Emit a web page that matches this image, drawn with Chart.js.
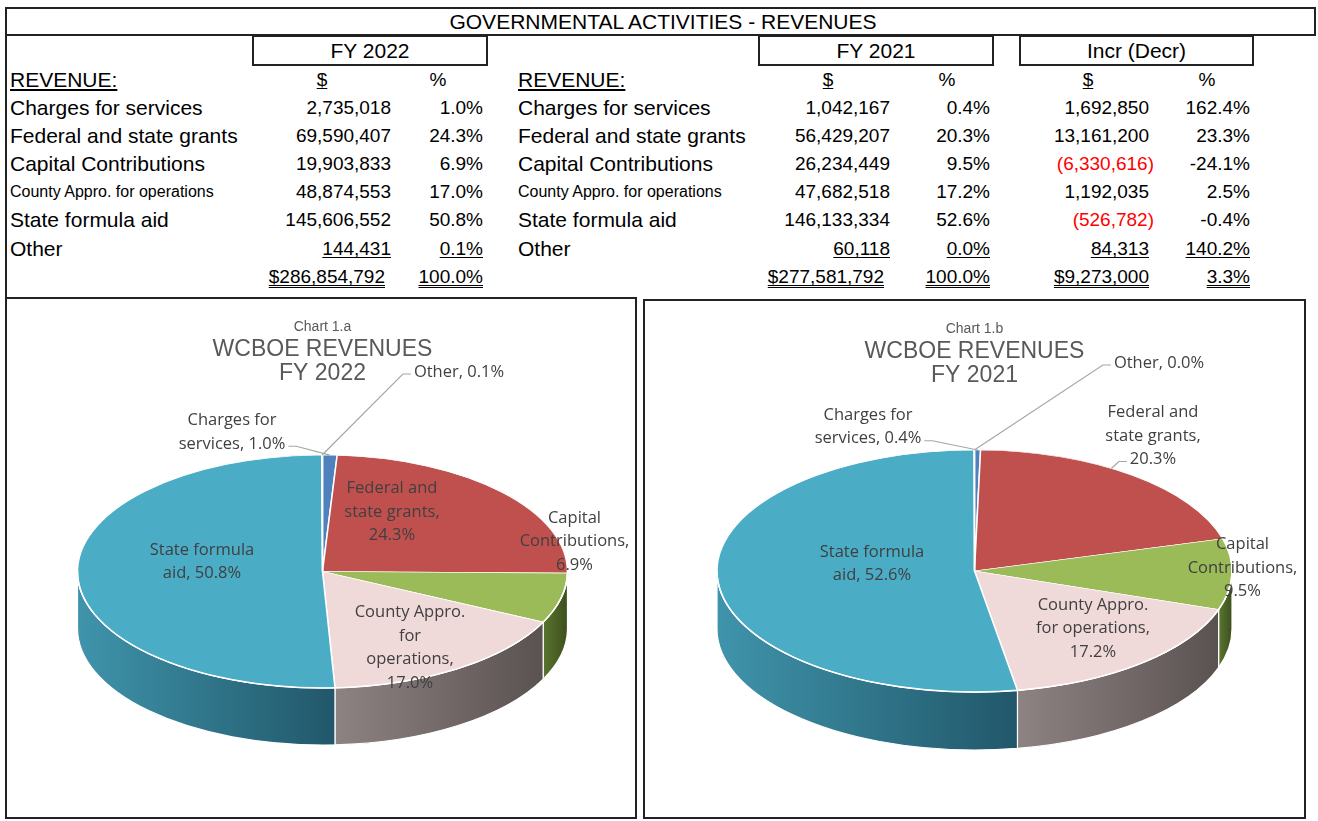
<!DOCTYPE html>
<html>
<head>
<meta charset="utf-8">
<script src="https://cdn.jsdelivr.net/npm/chart.js@4.4.1/dist/chart.umd.min.js"></script>
<style>
  body { margin: 0; background: #fff; width: 1318px; height: 821px; position: relative; overflow: hidden;
         font-family: "Liberation Sans", Arial, sans-serif; color: #000; }
  .ln { position: absolute; background: #222; }
  .t { position: absolute; font-size: 21px; line-height: 28px; height: 28px; white-space: nowrap; }
  .num { font-size: 19px; }
  .small { font-size: 16px; }
  .u { text-decoration: underline; text-underline-offset: 2px; }
  .uu { text-decoration: underline double; text-underline-offset: 2px; text-decoration-thickness: 1px; }
  .neg { color: #f00; }
  .fybox { position: absolute; box-sizing: border-box; border: 2px solid #222; font-size: 21px;
           text-align: center; line-height: 27px; }
  .box { position: absolute; box-sizing: border-box; border: 2px solid #222; }
  canvas { position: absolute; }
</style>
</head>
<body>
<div id="sheet"></div>
<div class="box" style="left:5px;top:297px;width:632px;height:522px"></div>
<div class="box" style="left:643px;top:299px;width:663px;height:520px"></div>
<canvas id="pie22" width="627" height="516" style="left:7px;top:300px"></canvas>
<canvas id="pie21" width="659" height="515" style="left:645px;top:302px"></canvas>
<script>
// ---- data ----
const categories = ["Charges for services", "Federal and state grants", "Capital Contributions",
                    "County Appro. for operations", "State formula aid", "Other"];
const fy2022 = [2735018, 69590407, 19903833, 48874553, 145606552, 144431];
const fy2022Pct = [1.0, 24.3, 6.9, 17.0, 50.8, 0.1];
const fy2022Total = 286854792;
const fy2021 = [1042167, 56429207, 26234449, 47682518, 146133334, 60118];
const fy2021Pct = [0.4, 20.3, 9.5, 17.2, 52.6, 0.0];
const fy2021Total = 277581792;
const incr = [1692850, 13161200, -6330616, 1192035, -526782, 84313];
const incrPct = [162.4, 23.3, -24.1, 2.5, -0.4, 140.2];
const incrTotal = 9273000;
const incrTotalPct = 3.3;

// ---- styles ----
const sliceColors = ["#4F81BD", "#C0504D", "#9BBB59", "#F0DAD9", "#4BACC6", "#F79646"];
const sideColors = [["#41699c", "#2c4a70"], ["#a34441", "#7a302e"], ["#5a7530", "#3c4f1d"],
                    ["#8d8382", "#5a5251"], ["#3f94ab", "#22576a"], ["#c77a3a", "#9a5c2a"]];
const labelFont = '16.5px "Open Sans", "Noto Sans", sans-serif';
const LH = 23.5;

// ---- table ----
const sheet = document.getElementById("sheet");
function el(cls, css, text) {
  const d = document.createElement("div");
  d.className = cls;
  d.style.cssText = css;
  if (text !== undefined) d.textContent = text;
  sheet.appendChild(d);
  return d;
}
function put(text, x, y, align, extra) {
  let css = "top:" + (y - 14) + "px;";
  if (align === "right") css += "right:" + (1318 - x) + "px;text-align:right;";
  else if (align === "center") css += "left:" + (x - 100) + "px;width:200px;text-align:center;";
  else css += "left:" + x + "px;";
  return el("t " + (extra || ""), css, text);
}
const money = v => v.toLocaleString("en-US");
const pct = v => v.toFixed(1) + "%";

// frame lines
el("ln", "left:5px;top:7px;width:1311px;height:2px");
el("ln", "left:5px;top:34px;width:1311px;height:2px");
el("ln", "left:5px;top:7px;width:2px;height:292px");
el("ln", "left:1314px;top:7px;width:2px;height:29px");
el("t", "left:0;width:1326px;top:8px;text-align:center;", "GOVERNMENTAL ACTIVITIES - REVENUES");

el("fybox", "left:252px;top:35px;width:236px;height:31px", "FY 2022");
el("fybox", "left:758px;top:35px;width:236px;height:31px", "FY 2021");
el("fybox", "left:1019px;top:35px;width:235px;height:31px", "Incr (Decr)");

const rowY = [108, 136, 164, 192, 220, 249];
const headY = 80, totalY = 277;
const cols = {
  l: { label: 10, d: 391, p: 483, dh: 322, ph: 438 },
  m: { label: 518, d: 890, p: 990, dh: 828, ph: 947 },
  r: { d: 1149, p: 1250, dh: 1088, ph: 1207 }
};

put("REVENUE:", cols.l.label, headY, "left", "u");
put("REVENUE:", cols.m.label, headY, "left", "u");
[cols.l, cols.m, cols.r].forEach(c => {
  put("$", c.dh, headY, "center", "u num");
  put("%", c.ph, headY, "center", "num");
});

categories.forEach((cat, i) => {
  const y = rowY[i];
  const small = i === 3 ? "small" : "";
  const last = i === categories.length - 1 ? "u num" : "num";
  put(cat, cols.l.label, y, "left", small);
  put(cat, cols.m.label, y, "left", small);
  put(money(fy2022[i]), cols.l.d, y, "right", last);
  put(pct(fy2022Pct[i]), cols.l.p, y, "right", last);
  put(money(fy2021[i]), cols.m.d, y, "right", last);
  put(pct(fy2021Pct[i]), cols.m.p, y, "right", last);
  if (incr[i] < 0) put("(" + money(-incr[i]) + ")", cols.r.d + 5, y, "right", "neg " + last);
  else put(money(incr[i]), cols.r.d, y, "right", last);
  put(pct(incrPct[i]), cols.r.p, y, "right", last);
});
put("$" + money(fy2022Total), cols.l.d - 6, totalY, "right", "uu num");
put("100.0%", cols.l.p, totalY, "right", "uu num");
put("$" + money(fy2021Total), cols.m.d - 6, totalY, "right", "uu num");
put("100.0%", cols.m.p, totalY, "right", "uu num");
put("$" + money(incrTotal), cols.r.d, totalY, "right", "uu num");
put(pct(incrTotalPct), cols.r.p, totalY, "right", "uu num");

// ---- 3D pie plugin: side walls + vertical squash of the top face ----
const pie3d = {
  id: "pie3d",
  beforeDatasetsDraw(chart, args, o) {
    const ctx = chart.ctx;
    const arcs = chart.getDatasetMeta(0).data;
    const cx = arcs[0].x, r = arcs[0].outerRadius, cy = o.cy, k = o.tilt, dep = o.depth;
    ctx.save();
    arcs.forEach((arc, i) => {
      const t1 = Math.max(arc.startAngle, 0), t2 = Math.min(arc.endAngle, Math.PI);
      if (t2 <= t1) return;
      const xs = [cx + r * Math.cos(t1), cx + r * Math.cos(t2)];
      if (t1 < Math.PI && t2 >= Math.PI) xs.push(cx - r);
      const x0 = Math.min(...xs), x1 = Math.max(...xs);
      const g = ctx.createLinearGradient(x0, 0, x1, 0);
      g.addColorStop(0, sideColors[i][0]);
      g.addColorStop(1, sideColors[i][1]);
      ctx.beginPath();
      ctx.ellipse(cx, cy, r, r * k, 0, t1, t2);
      ctx.ellipse(cx, cy + dep, r, r * k, 0, t2, t1, true);
      ctx.closePath();
      ctx.fillStyle = g;
      ctx.fill();
      ctx.strokeStyle = "#fff";
      ctx.lineWidth = 1.2;
      ctx.stroke();
    });
    ctx.translate(cx, cy);
    ctx.scale(1, k);
    ctx.translate(-cx, -arcs[0].y);
  },
  afterDatasetsDraw(chart, args, o) {
    const ctx = chart.ctx;
    ctx.restore();
    const a = chart.getDatasetMeta(0).data[0];
    ctx.save();
    ctx.beginPath();
    ctx.ellipse(a.x, o.cy, a.outerRadius, a.outerRadius * o.tilt, 0, 0, Math.PI);
    ctx.strokeStyle = "#fff";
    ctx.lineWidth = 1.5;
    ctx.stroke();
    ctx.restore();
  }
};

function wrap(text, maxChars) {
  const lines = [];
  let cur = "";
  text.split(" ").forEach(w => {
    const next = cur ? cur + " " + w : w;
    if (next.length > maxChars && cur) { lines.push(cur); cur = w; } else cur = next;
  });
  lines.push(cur);
  return lines;
}

const sliceLabels = {
  id: "sliceLabels",
  afterDraw(chart, args, o) {
    const ctx = chart.ctx;
    const arcs = chart.getDatasetMeta(0).data;
    const cx = arcs[0].x, r = arcs[0].outerRadius, cy = o.cy, k = o.tilt;
    ctx.save();
    ctx.font = labelFont;
    ctx.fillStyle = "#404040";
    ctx.textAlign = "center";
    ctx.textBaseline = "middle";
    ctx.strokeStyle = "#a6a6a6";
    ctx.lineWidth = 1.2;
    o.items.forEach((it, i) => {
      const lines = wrap(categories[i] + ", " + o.pcts[i].toFixed(1) + "%", it.wrap);
      const lx = cx + it.dx;
      const top = cy + it.dy - (lines.length - 1) * LH / 2;
      lines.forEach((ln, j) => ctx.fillText(ln, lx, top + j * LH));
      if (it.leader) {
        const arc = arcs[i];
        const ang = arc.startAngle + (arc.endAngle - arc.startAngle) * it.leader.at;
        const ex = cx + r * Math.cos(ang), ey = cy + r * k * Math.sin(ang);
        const w = ctx.measureText(lines[lines.length - 1]).width;
        const sy = top + (lines.length - 1) * LH + 2;
        const dir = it.leader.side === "right" ? 1 : -1;
        const sx = lx + dir * (w / 2 + 3);
        ctx.beginPath();
        ctx.moveTo(sx, sy);
        ctx.lineTo(sx + dir * 8, sy);
        ctx.lineTo(ex, ey);
        ctx.stroke();
      }
    });
    ctx.restore();
  }
};

function makePie(id, values, pcts, chartNo, year, geo, items) {
  return new Chart(document.getElementById(id), {
    type: "pie",
    data: {
      labels: categories,
      datasets: [{
        data: values,
        backgroundColor: sliceColors,
        borderColor: "#fff",
        borderWidth: 1.5,
        radius: geo.rx
      }]
    },
    options: {
      responsive: false,
      animation: false,
      layout: { padding: { left: geo.padLeft } },
      plugins: {
        legend: { display: false },
        tooltip: { enabled: false },
        title: {
          display: true, text: "Chart " + chartNo, color: "#595959",
          font: { family: '"Liberation Sans", Arial, sans-serif', size: 14, weight: "normal", lineHeight: 1.2 },
          padding: { top: 18.6, bottom: 0 }
        },
        subtitle: {
          display: true, text: ["WCBOE REVENUES", "FY " + year], color: "#595959",
          font: { family: '"Liberation Sans", Arial, sans-serif', size: 23, weight: "normal", lineHeight: 1.05 },
          padding: { top: 2.5, bottom: 0 }
        },
        pie3d: { cy: geo.cy, tilt: geo.tilt, depth: geo.depth },
        sliceLabels: { cy: geo.cy, tilt: geo.tilt, pcts: pcts, items: items }
      }
    },
    plugins: [pie3d, sliceLabels]
  });
}

makePie("pie22", fy2022, fy2022Pct, "1.a", 2022,
  { rx: 245, cy: 271.5, tilt: 0.4755, depth: 57, padLeft: 4 },
  [
    { dx: -90.5, dy: -139, wrap: 14, leader: { side: "right", at: 0.5 } },
    { dx: 69.5, dy: -59.5, wrap: 14 },
    { dx: 252, dy: -30, wrap: 14 },
    { dx: 87.5, dy: 76.5, wrap: 14 },
    { dx: -120.5, dy: -9.5, wrap: 14 },
    { dx: 136.5, dy: -199.5, wrap: 14, leader: { side: "left", at: 0.5 } }
  ]);

makePie("pie21", fy2021, fy2021Pct, "1.b", 2021,
  { rx: 257.5, cy: 269, tilt: 0.47, depth: 58, padLeft: 0 },
  [
    { dx: -106.5, dy: -144, wrap: 14, leader: { side: "right", at: 0.5 } },
    { dx: 178.5, dy: -135, wrap: 14, leader: { side: "left", at: 0.42 } },
    { dx: 268, dy: -3, wrap: 14 },
    { dx: 118.5, dy: 57.3, wrap: 15 },
    { dx: -102.5, dy: -7, wrap: 14 },
    { dx: 184.5, dy: -208, wrap: 14, leader: { side: "left", at: 0.5 } }
  ]);
</script>
</body>
</html>
